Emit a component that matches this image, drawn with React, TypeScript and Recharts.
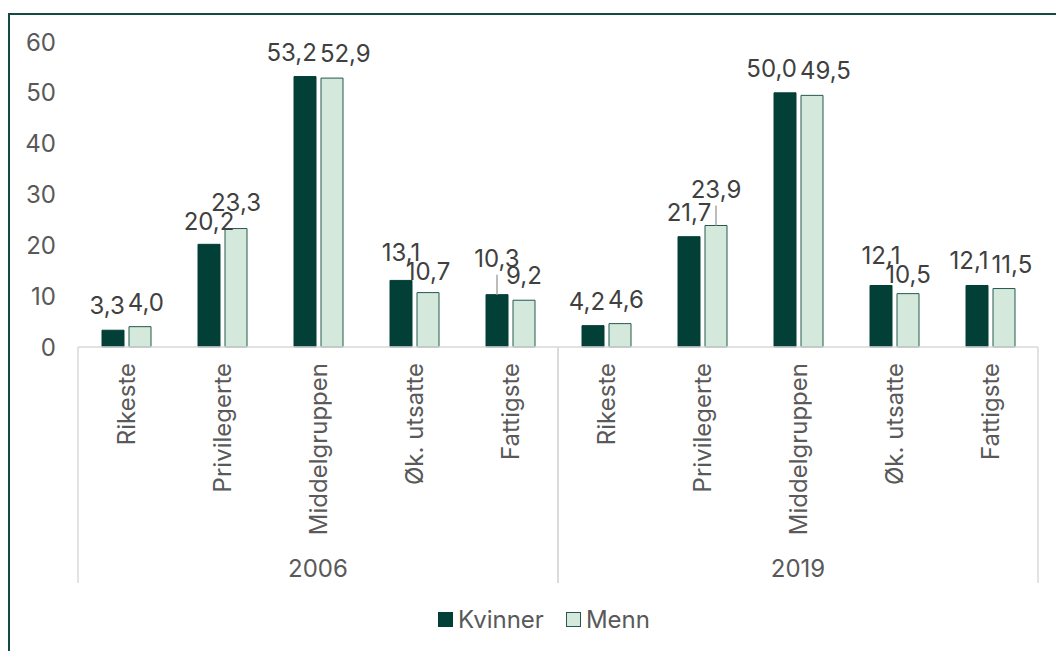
import { Bar, BarChart, LabelList, Legend, XAxis, YAxis } from "recharts";

const YEARS = ["2006", "2019"];
const GROUPS = ["Rikeste", "Privilegerte", "Middelgruppen", "Øk. utsatte", "Fattigste"];
const KVINNER_2006 = [3.3, 20.2, 53.2, 13.1, 10.3];
const MENN_2006 = [4.0, 23.3, 52.9, 10.7, 9.2];
const KVINNER_2019 = [4.2, 21.7, 50.0, 12.1, 12.1];
const MENN_2019 = [4.6, 23.9, 49.5, 10.5, 11.5];
const Y_TICKS = [0, 10, 20, 30, 40, 50, 60];

const KVINNER_COLOR = "#023f37";
const MENN_FILL = "#d5e8dc";
const MENN_STROKE = "#24594f";
const AXIS_TEXT = "#595959";
const LABEL_TEXT = "#404040";
const RULE = "#d9d9d9";
const FONT = "Inter, 'Noto Sans', sans-serif";
const FONT_SIZE = 24;
const CAP_HEIGHT = FONT_SIZE * 0.73;
const BAR_GAP = 5;

const SERIES = [
  { key: "kvinner", name: "Kvinner", fill: KVINNER_COLOR, stroke: KVINNER_COLOR },
  { key: "menn", name: "Menn", fill: MENN_FILL, stroke: MENN_STROKE },
];

// labels that Excel pushed up and tied to the bar with a leader line
const LIFTED = new Set(["2006|Fattigste|kvinner", "2019|Privilegerte|menn"]);

const KVINNER_BY_YEAR = [KVINNER_2006, KVINNER_2019];
const MENN_BY_YEAR = [MENN_2006, MENN_2019];

const rows = YEARS.flatMap((year, yi) =>
  GROUPS.map((group, gi) => ({
    key: `${year}|${group}`,
    year,
    group,
    kvinner: KVINNER_BY_YEAR[yi][gi],
    menn: MENN_BY_YEAR[yi][gi],
  })),
);

const fmt = (v: number) => v.toFixed(1).replace(".", ",");

let measureCtx: CanvasRenderingContext2D | null = null;
function textWidth(s: string) {
  if (!measureCtx && typeof document !== "undefined") {
    measureCtx = document.createElement("canvas").getContext("2d");
  }
  if (measureCtx) {
    measureCtx.font = `${FONT_SIZE}px Inter`;
    return measureCtx.measureText(s).width;
  }
  return s.length * FONT_SIZE * 0.55;
}

function CategoryTick(props: any) {
  const { x, y, payload, index, width, visibleTicksCount } = props;
  const [year, group] = String(payload.value).split("|");
  const band = width && visibleTicksCount ? width / visibleTicksCount : 96;
  const pos = index % GROUPS.length;
  const mid = Math.floor(GROUPS.length / 2);
  const ruleEnd = y + 236;
  return (
    <g>
      <text
        x={x}
        y={y + 16}
        dy="0.36em"
        textAnchor="end"
        transform={`rotate(-90, ${x}, ${y + 16})`}
        fill={AXIS_TEXT}
        fontSize={FONT_SIZE}
        fontFamily={FONT}
      >
        {group}
      </text>
      {pos === 0 && <line x1={x - band / 2} x2={x - band / 2} y1={y} y2={ruleEnd} stroke={RULE} strokeWidth={1.5} />}
      {pos === GROUPS.length - 1 && (
        <line x1={x + band / 2} x2={x + band / 2} y1={y} y2={ruleEnd} stroke={RULE} strokeWidth={1.5} />
      )}
      {pos === mid && (
        <text x={x} y={y + 221} dy="0.36em" textAnchor="middle" fill={AXIS_TEXT} fontSize={FONT_SIZE} fontFamily={FONT}>
          {year}
        </text>
      )}
    </g>
  );
}

function makeValueLabel(series: "kvinner" | "menn") {
  const other = series === "kvinner" ? "menn" : "kvinner";
  const dir = series === "kvinner" ? -1 : 1;
  return (props: any) => {
    const { x, y, width, height, value, index } = props;
    const row = rows[index];
    const v = Number(value);
    const top = Number(y);
    const w = Number(width);
    let cx = Number(x) + w / 2;
    let baseline = top - 16;
    const lifted = LIFTED.has(`${row.year}|${row.group}|${series}`);
    const partnerLifted = LIFTED.has(`${row.year}|${row.group}|${other}`);
    if (lifted) {
      baseline -= 12;
    } else if (!partnerLifted && v > 0) {
      // keep neighbouring labels from running into each other
      const p = row[other];
      const unit = Number(height) / v;
      const dy = Math.abs(v - p) * unit;
      const need = (textWidth(fmt(v)) + textWidth(fmt(p))) / 2 + 3 - (w + BAR_GAP);
      if (need > 0) {
        if (dy < 6) {
          cx += (dir * need) / 2;
        } else if (dy < CAP_HEIGHT + 1) {
          const push = (CAP_HEIGHT + 1 - dy) / 2;
          baseline += v > p ? -push : push;
        }
      }
    }
    return (
      <g>
        {lifted && <line x1={cx} x2={cx} y1={baseline + 8} y2={top} stroke="#a6a6a6" strokeWidth={1.5} />}
        <text x={cx} y={baseline} textAnchor="middle" fill={LABEL_TEXT} fontSize={FONT_SIZE} fontFamily={FONT}>
          {fmt(v)}
        </text>
      </g>
    );
  };
}

function LegendContent() {
  return (
    <div
      style={{
        display: "flex",
        alignItems: "center",
        height: 28,
        paddingLeft: 438,
        fontFamily: FONT,
        fontSize: FONT_SIZE,
        color: AXIS_TEXT,
      }}
    >
      {SERIES.map((s, i) => (
        <div key={s.key} style={{ display: "flex", alignItems: "center", marginLeft: i === 0 ? 0 : 22 }}>
          <span
            style={{
              width: 13,
              height: 13,
              background: s.fill,
              border: `1px solid ${s.stroke}`,
              marginRight: 5,
              display: "inline-block",
            }}
          />
          <span>{s.name}</span>
        </div>
      ))}
    </div>
  );
}

export default function App() {
  return (
    <div style={{ position: "absolute", left: 0, top: 0, width: 1056, height: 651, overflow: "hidden", background: "#fff" }}>
      <div
        style={{
          position: "absolute",
          left: 8,
          top: 13,
          width: 1100,
          height: 700,
          borderLeft: "2px solid #124b43",
          borderTop: "2px solid #124b43",
        }}
      />
      <div style={{ position: "absolute", left: 0, top: 0 }}>
        <BarChart
          width={1056}
          height={651}
          data={rows}
          margin={{ top: 42, right: 18, bottom: 0, left: 0 }}
          barGap={BAR_GAP}
          style={{ fontFamily: FONT }}
        >
          <XAxis
            dataKey="key"
            type="category"
            height={276}
            interval={0}
            tickLine={false}
            tickSize={0}
            tickMargin={0}
            axisLine={{ stroke: RULE, strokeWidth: 1.5 }}
            tick={<CategoryTick />}
          />
          <YAxis
            domain={[0, 60]}
            ticks={Y_TICKS}
            interval={0}
            width={78}
            axisLine={false}
            tickLine={false}
            tickSize={0}
            tickMargin={22}
            tick={{ fill: AXIS_TEXT, fontSize: FONT_SIZE, fontFamily: FONT }}
          />
          <Legend
            verticalAlign="bottom"
            content={<LegendContent />}
            wrapperStyle={{ left: 0, top: 605, width: 1056, height: 28 }}
          />
          {SERIES.map((s) => (
            <Bar
              key={s.key}
              dataKey={s.key}
              name={s.name}
              fill={s.fill}
              stroke={s.stroke}
              strokeWidth={1}
              barSize={22}
              isAnimationActive={false}
            >
              <LabelList dataKey={s.key} content={makeValueLabel(s.key as "kvinner" | "menn")} />
            </Bar>
          ))}
        </BarChart>
      </div>
    </div>
  );
}
